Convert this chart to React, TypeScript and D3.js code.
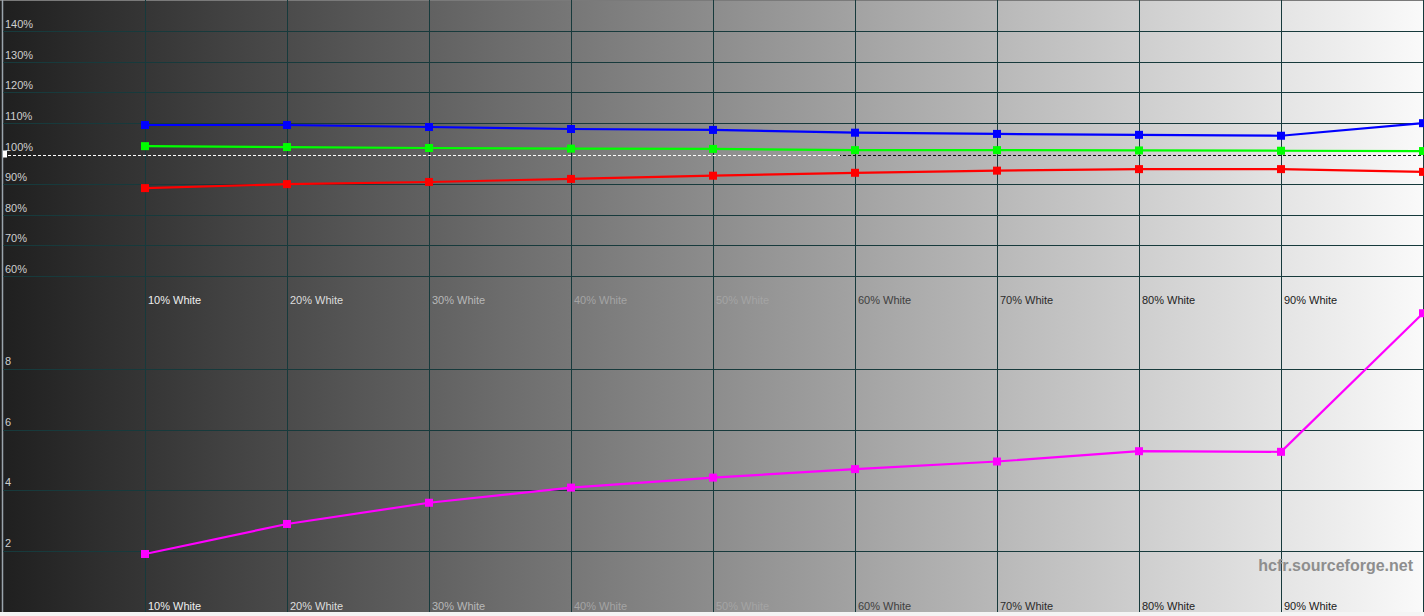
import React from "react";
import * as d3 from "d3";

const levels = [10, 20, 30, 40, 50, 60, 70, 80, 90, 100];
const levelLabels = ["10% White", "20% White", "30% White", "40% White", "50% White", "60% White", "70% White", "80% White", "90% White"];
const labelColors = ["#eeeeee", "#dddddd", "#b8b8b8", "#a4a4a4", "#a4a4a4", "#404040", "#2c2c2c", "#222222", "#1a1a1a"];
const redValues = [88.7, 90.0, 90.7, 91.7, 92.75, 93.7, 94.4, 94.9, 94.9, 94.0];
const greenValues = [102.4, 102.1, 101.8, 101.6, 101.5, 101.1, 101.1, 101.0, 100.9, 100.8];
const blueValues = [109.3, 109.3, 108.65, 108.0, 107.7, 106.8, 106.4, 106.1, 105.8, 109.9];
const deltaEValues = [1.9, 2.89, 3.59, 4.09, 4.42, 4.7, 4.95, 5.29, 5.27, 9.84];
const percentTicks = [60, 70, 80, 90, 100, 110, 120, 130, 140];
const deltaTicks = [2, 4, 6, 8];

const W = 1424;
const H = 616;
const chartBottom = 612;

export default function App() {
  const x = d3.scaleLinear().domain([0, 100]).range([3, 1423]);
  const yTop = d3.scaleLinear().domain([50, 150]).range([306.6, 0.4]);
  const yBot = d3.scaleLinear().domain([0, 10]).range([611.6, 308.4]);
  const gridColor = "#173a3c";
  const font = "'Liberation Sans', Arial, sans-serif";

  const rgbSeries = [
    { values: redValues, color: "#ff0000" },
    { values: greenValues, color: "#00ff00" },
    { values: blueValues, color: "#0000ff" },
  ];

  const lineTop = d3
    .line<number>()
    .x((_, i) => x(levels[i]))
    .y((v) => yTop(v));
  const lineBot = d3
    .line<number>()
    .x((_, i) => x(levels[i]))
    .y((v) => yBot(v));

  const ms = 8;

  return (
    <svg
      width={W}
      height={H}
      style={{ position: "fixed", left: 0, top: 0, display: "block" }}
    >
      <defs>
        <linearGradient id="bg" x1="0" x2={W} y1="0" y2="0" gradientUnits="userSpaceOnUse">
          <stop offset="0" stopColor="#1f1f1f" />
          <stop offset="1" stopColor="#fafafa" />
        </linearGradient>
        <linearGradient id="dash" x1="0" x2={W} y1="0" y2="0" gradientUnits="userSpaceOnUse">
          <stop offset="0" stopColor="#ffffff" />
          <stop offset="0.59" stopColor="#ffffff" />
          <stop offset="0.59" stopColor="#111111" />
          <stop offset="1" stopColor="#111111" />
        </linearGradient>
        <clipPath id="clip">
          <rect x={0} y={0} width={W} height={chartBottom} />
        </clipPath>
      </defs>
      <rect x={0} y={0} width={W} height={H} fill="#f4f4f4" />
      <rect x={0} y={0} width={W} height={chartBottom} fill="url(#bg)" />
      <line x1={0} x2={W} y1={0.5} y2={0.5} stroke="#7a7a7a" />

      {/* vertical gridlines */}
      {levels.map((l) => (
        <line key={"v" + l} x1={Math.round(x(l)) + 0.5} x2={Math.round(x(l)) + 0.5} y1={0} y2={chartBottom} stroke={gridColor} strokeWidth={1} />
      ))}
      <line x1={x(0) - 0.5} x2={x(0) - 0.5} y1={0} y2={chartBottom} stroke="#9aa4ac" strokeWidth={1.5} />

      {/* horizontal gridlines top */}
      {percentTicks.filter((t) => t !== 100).map((t) => (
        <line key={"ht" + t} x1={x(0)} x2={W} y1={Math.round(yTop(t)) + 0.5} y2={Math.round(yTop(t)) + 0.5} stroke={gridColor} />
      ))}
      {deltaTicks.map((t) => (
        <line key={"hb" + t} x1={x(0)} x2={W} y1={Math.round(yBot(t)) + 0.5} y2={Math.round(yBot(t)) + 0.5} stroke={gridColor} />
      ))}

      {/* 100% dashed reference */}
      <line x1={x(0)} x2={W} y1={Math.round(yTop(100)) + 1.5} y2={Math.round(yTop(100)) + 1.5} stroke="url(#dash)" strokeWidth={1} strokeDasharray="3 2" />
      <rect x={3} y={yTop(100) - 3} width={4} height={7} fill="#ffffff" />

      {/* axis labels */}
      {percentTicks.map((t) => (
        <text key={"lt" + t} x={5} y={yTop(t) - 3} fontFamily={font} fontSize={11} fill="#cfcfcf">
          {t}%
        </text>
      ))}
      {deltaTicks.map((t) => (
        <text key={"lb" + t} x={5} y={yBot(t) - 4} fontFamily={font} fontSize={11} fill="#cfcfcf">
          {t}
        </text>
      ))}

      {/* category labels */}
      {levelLabels.map((lab, i) => (
        <g key={"cl" + i}>
          <text x={x(levels[i]) + 3} y={304} fontFamily={font} fontSize={11} fill={labelColors[i]}>
            {lab}
          </text>
          <text x={x(levels[i]) + 3} y={610} fontFamily={font} fontSize={11} fill={labelColors[i]}>
            {lab}
          </text>
        </g>
      ))}

      <g clipPath="url(#clip)">
        {rgbSeries.map((s, si) => (
          <g key={"s" + si}>
            <path d={lineTop(s.values) || ""} fill="none" stroke={s.color} strokeWidth={2.2} />
            {s.values.map((v, i) => (
              <rect key={i} x={x(levels[i]) - ms / 2} y={yTop(v) - ms / 2} width={ms} height={ms} fill={s.color} />
            ))}
          </g>
        ))}
        <path d={lineBot(deltaEValues) || ""} fill="none" stroke="#ff00ff" strokeWidth={2.2} />
        {deltaEValues.map((v, i) => (
          <rect key={"m" + i} x={x(levels[i]) - ms / 2} y={yBot(v) - ms / 2} width={ms} height={ms} fill="#ff00ff" />
        ))}
      </g>

      <text x={1413} y={571} textAnchor="end" fontFamily={font} fontSize={16} fontWeight="bold" fill="#8e8e8e">
        hcfr.sourceforge.net
      </text>
    </svg>
  );
}
